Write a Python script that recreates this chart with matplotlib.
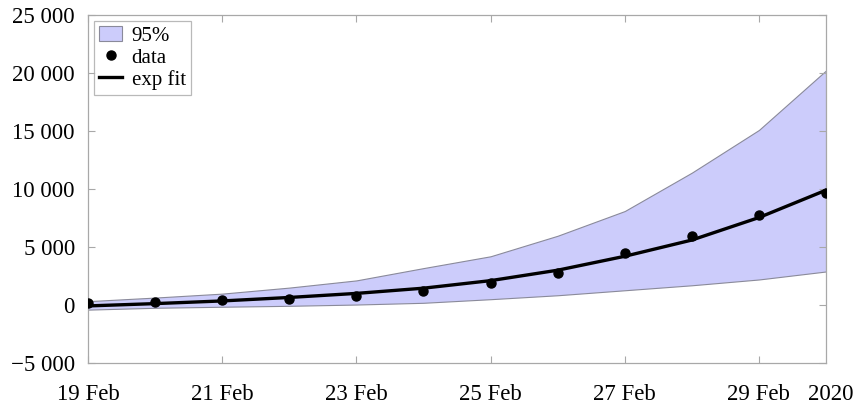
import numpy as np
import matplotlib.pyplot as plt
import matplotlib.dates as mdates
from matplotlib.ticker import FuncFormatter

plt.rcParams['font.family'] = ['Liberation Serif', 'DejaVu Serif']

# daily values, 19 Feb - 1 Mar 2020
days = ['2020-02-19', '2020-02-20', '2020-02-21', '2020-02-22', '2020-02-23', '2020-02-24',
        '2020-02-25', '2020-02-26', '2020-02-27', '2020-02-28', '2020-02-29', '2020-03-01']
data = [150, 270, 410, 530, 750, 1240, 1920, 2720, 4460, 5920, 7740, 9680]
fit = [-80, 120, 350, 650, 1000, 1450, 2100, 3000, 4200, 5600, 7540, 9900]
upper = [330, 640, 980, 1500, 2120, 3180, 4200, 5970, 8100, 11410, 15090, 20220]
lower = [-400, -240, -150, -70, 40, 190, 500, 840, 1270, 1700, 2200, 2890]

tick_days = ['2020-02-19', '2020-02-21', '2020-02-23', '2020-02-25', '2020-02-27', '2020-02-29']

x = np.array(days, dtype='datetime64[D]')

fig = plt.figure(figsize=(8.6, 4.08), dpi=100)
ax = fig.add_axes([0.1023, 0.1103, 0.8582, 0.8529])

ax.fill_between(x, lower, upper, facecolor='#ccccfb', edgecolor='#8a8a9a', linewidth=0.8, label='95%')
ax.plot(x, data, 'o', color='black', markersize=6.5, label='data', zorder=4)
ax.plot(x, fit, '-', color='black', linewidth=2.4, label='exp fit', zorder=3)

ax.set_xlim(x[0], x[-1])
ax.set_ylim(-5000, 25000)
ax.set_yticks(np.arange(-5000, 25001, 5000))

def fmt(v, pos):
    s = '{:,.0f}'.format(abs(v)).replace(',', ' ')
    return ('\u2212' if v < 0 else '') + s

ax.yaxis.set_major_formatter(FuncFormatter(fmt))
ax.set_xticks(np.array(tick_days, dtype='datetime64[D]'))
ax.xaxis.set_major_formatter(mdates.DateFormatter('%-d %b'))

for s in ax.spines.values():
    s.set_color('#a8a8a8')
    s.set_linewidth(0.9)
ax.tick_params(direction='in', top=True, right=True, color='#a8a8a8',
               labelsize=16.5, length=5)
ax.tick_params(axis='x', pad=15)
ax.tick_params(axis='y', pad=9.5)

ax.annotate('2020', xy=(1.0, 0.0), xycoords='axes fraction', xytext=(3.5, -15),
            textcoords='offset points', ha='center', va='top', fontsize=16.5)

leg = ax.legend(loc='upper left', fontsize=15, frameon=True, fancybox=False,
                borderaxespad=0.3, handlelength=1.1, handletextpad=0.45,
                borderpad=0.25, labelspacing=0.1)
leg.get_frame().set_edgecolor('#a8a8a8')
leg.get_frame().set_linewidth(0.9)

fig.savefig('out.png', dpi=100)
